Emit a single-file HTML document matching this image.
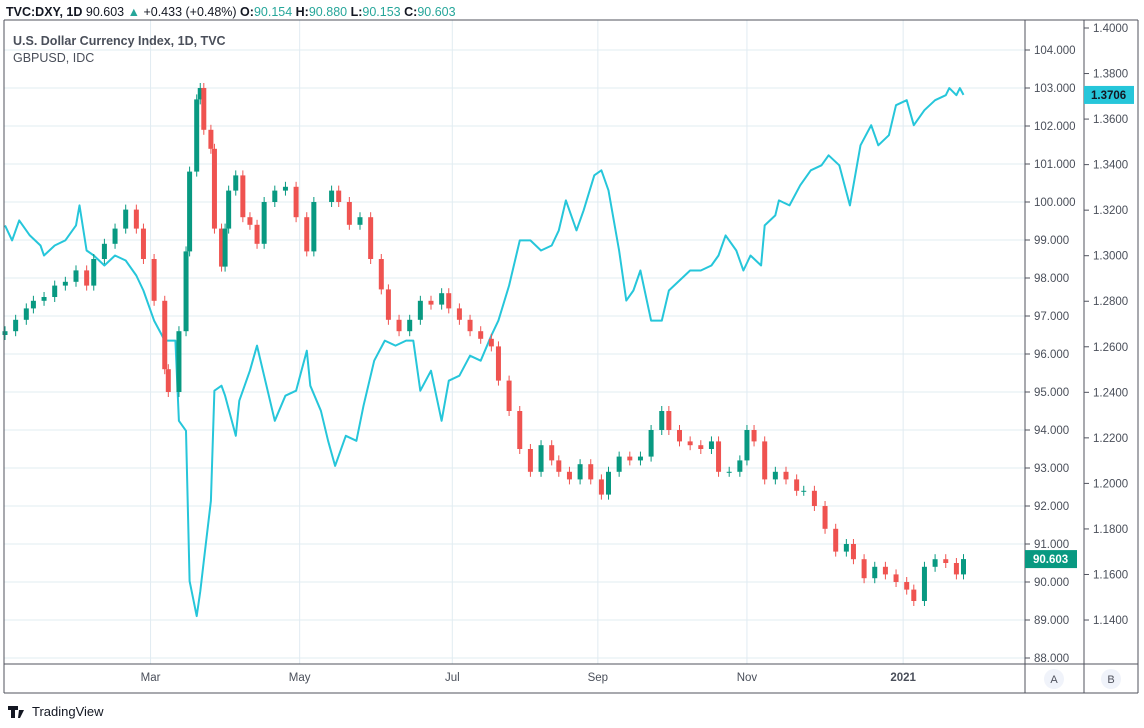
<!DOCTYPE html>
<html><head><meta charset="utf-8"><style>
body{margin:0;background:#fff;font-family:"Liberation Sans",sans-serif;}
svg text{font-family:"Liberation Sans",sans-serif;}
</style></head><body>
<svg id="c" width="1144" height="723" xmlns="http://www.w3.org/2000/svg">
<rect width="1144" height="723" fill="#fff"/>
<g id="grid"></g>
<g id="gbp"></g>
<g id="dxy"></g>
<g id="axes"></g>
<text x="6" y="16" font-size="12.5" fill="#131722"><tspan font-weight="bold">TVC:DXY, 1D</tspan> 90.603 <tspan fill="#26a69a">▲</tspan> +0.433 (+0.48%) <tspan font-weight="bold">O:</tspan><tspan fill="#26a69a">90.154</tspan> <tspan font-weight="bold">H:</tspan><tspan fill="#26a69a">90.880</tspan> <tspan font-weight="bold">L:</tspan><tspan fill="#26a69a">90.153</tspan> <tspan font-weight="bold">C:</tspan><tspan fill="#26a69a">90.603</tspan></text>
<text x="13" y="45" font-size="12.5" font-weight="bold" fill="#4a4f5a">U.S. Dollar Currency Index, 1D, TVC</text>
<text x="13" y="62" font-size="12.5" fill="#4a4f5a">GBPUSD, IDC</text>
<text x="32" y="716" font-size="13" fill="#131722">TradingView</text>
<path d="M8 706h10v4h-3v8h-4v-8h-3zM19 710h5l-4 8h-2z" fill="#131722"/>
</svg>
<script>
const dxyDays=[0,3,6,8,11,14,17,20,23,25,28,31,34,37,39,42,45,46,49,51,52,54,55,56,58,59,61,62,63,65,67,69,71,73,76,79,82,85,87,92,94,97,100,103,106,108,111,114,117,120,123,125,128,131,134,137,139,142,145,148,151,154,156,159,162,165,168,170,173,176,179,182,185,187,190,193,196,199,201,204,207,209,211,214,217,220,223,225,228,231,234,237,239,242,245,248,251,254,256,259,262,265,268,270];
const dxyClose=[96.6,96.9,97.2,97.4,97.5,97.8,97.9,98.2,97.8,98.5,98.9,99.3,99.8,99.3,98.5,97.4,95.6,95.0,96.6,98.7,100.8,102.7,103.0,101.9,101.4,99.3,98.3,99.3,100.3,100.7,99.6,99.4,98.9,100.0,100.3,100.4,99.6,98.7,100.0,100.3,100.0,99.4,99.6,98.5,97.7,96.9,96.6,96.9,97.4,97.3,97.6,97.2,96.9,96.6,96.4,96.2,95.3,94.5,93.5,92.9,93.6,93.2,92.9,92.7,93.1,92.7,92.3,92.9,93.3,93.2,93.3,94.0,94.5,94.0,93.7,93.6,93.5,93.7,92.9,92.9,93.2,94.0,93.7,92.7,92.9,92.7,92.4,92.4,92.0,91.4,90.8,91.0,90.6,90.1,90.4,90.2,90.0,89.8,89.5,90.4,90.6,90.5,90.2,90.603];
const gbpDays=[0,2,4,7,10,11,14,17,20,21,23,25,28,31,34,37,39,42,45,48,49,51,52,54,55,56,58,59,61,62,65,66,69,71,73,76,79,82,85,86,89,91,93,96,99,101,104,107,110,113,115,117,120,123,125,128,131,134,137,139,142,145,148,151,154,156,158,161,163,166,168,170,173,175,177,179,182,185,187,190,193,196,199,201,203,206,208,210,213,214,217,218,221,224,227,230,232,235,238,241,244,246,249,251,254,256,259,262,265,266,268,269,270];
const gbpValues=[1.3133,1.3067,1.3155,1.3089,1.3045,1.3001,1.3045,1.3067,1.3133,1.3221,1.3023,1.3001,1.2957,1.3001,1.2979,1.2913,1.2847,1.2715,1.2627,1.2627,1.2275,1.2231,1.1571,1.1417,1.1527,1.1659,1.1923,1.2407,1.2429,1.2385,1.2209,1.2363,1.2495,1.2605,1.2473,1.2275,1.2385,1.2407,1.2583,1.2429,1.2319,1.2187,1.2077,1.2209,1.2187,1.2341,1.2539,1.2627,1.2605,1.2627,1.2627,1.2407,1.2495,1.2275,1.2451,1.2473,1.2561,1.2539,1.2649,1.2715,1.2869,1.3067,1.3067,1.3023,1.3045,1.3111,1.3243,1.3111,1.3199,1.3353,1.3375,1.3287,1.3023,1.2803,1.2847,1.2935,1.2715,1.2715,1.2847,1.2891,1.2935,1.2935,1.2957,1.3001,1.3089,1.3023,1.2935,1.3001,1.2957,1.3133,1.3177,1.3243,1.3221,1.3309,1.3375,1.3397,1.3441,1.3397,1.3221,1.3485,1.3573,1.3485,1.3529,1.3661,1.3683,1.3573,1.3639,1.3683,1.3705,1.3736,1.3705,1.3736,1.3706];
const dxyTicks=[88,89,90,91,92,93,94,95,96,97,98,99,100,101,102,103,104];
const gbpTicks=[1.14,1.16,1.18,1.20,1.22,1.24,1.26,1.28,1.30,1.32,1.34,1.36,1.38,1.40];
const monthLabels=["Mar","May","Jul","Sep","Nov","2021"];
const monthDays=[41,83,126,167,209,253];

const NS="http://www.w3.org/2000/svg";
const xS=d=>5+d*3.55;
const yD=v=>50+(104-v)*38;
const yG=v=>28+(1.40-v)/0.02*45.54;
function mk(tag,attrs,parent){const e=document.createElementNS(NS,tag);for(const k in attrs)e.setAttribute(k,attrs[k]);parent.appendChild(e);return e;}
const grid=document.getElementById('grid'),axes=document.getElementById('axes');
dxyTicks.forEach(v=>{const l=mk('line',{x1:4,x2:1025,y1:yD(v),y2:yD(v),stroke:'#e1ecf2','stroke-width':1},grid);

});
monthDays.forEach((d,i)=>{const l=mk('line',{x1:xS(d),x2:xS(d),y1:20,y2:664,stroke:'#e1ecf2','stroke-width':1},grid);


const t=mk('text',{x:xS(d),y:681,'font-size':11.5,fill:'#4a4f5a','text-anchor':'middle'},axes);
if(monthLabels[i]==='2021')t.setAttribute('font-weight','bold');
t.textContent=monthLabels[i];

});
// GBP line
let p='';gbpDays.forEach((d,i)=>{p+=(i?'L':'M')+xS(d).toFixed(1)+' '+yG(gbpValues[i]).toFixed(1);});
const gl=mk('path',{d:p,fill:'none',stroke:'#26c6da','stroke-width':2,'stroke-linejoin':'round'},document.getElementById('gbp'));


// DXY candles
const dg=document.getElementById('dxy');
dxyClose.forEach((c,i)=>{const o=i?dxyClose[i-1]:c-0.1;const up=c>=o;const col=up?'#089981':'#ef5350';
const x=xS(dxyDays[i]);const hi=Math.max(o,c),lo=Math.min(o,c);
const w=mk('line',{x1:x,x2:x,y1:yD(hi)-5,y2:yD(lo)+5,stroke:col,'stroke-width':1},dg);


const b=mk('rect',{x:x-2.5,y:yD(hi),width:5,height:Math.max(1,yD(lo)-yD(hi)),fill:col},dg);

});
// frames
[[4,20,4,693],[4,20,1138,20],[1025,20,1025,693],[1084,20,1084,693],[1138,20,1138,693],[4,664,1138,664],[4,693,1138,693]].forEach(a=>{const l=mk('line',{x1:a[0],y1:a[1],x2:a[2],y2:a[3],stroke:'#50535e','stroke-width':1},axes);

});
dxyTicks.forEach(v=>{mk('line',{x1:1025,x2:1030,y1:yD(v),y2:yD(v),stroke:'#50535e'},axes);
const t=mk('text',{x:1034,y:yD(v)+4,'font-size':11.5,fill:'#4a4f5a'},axes);t.textContent=v.toFixed(3);

});
gbpTicks.forEach(v=>{mk('line',{x1:1084,x2:1089,y1:yG(v),y2:yG(v),stroke:'#50535e'},axes);
const t=mk('text',{x:1093,y:yG(v)+4,'font-size':11.5,fill:'#4a4f5a'},axes);t.textContent=v.toFixed(4);

});
// last price labels
const lastD=dxyClose[dxyClose.length-1],lastG=gbpValues[gbpValues.length-1];
const r1=mk('rect',{x:1025,y:yD(lastD)-9,width:52,height:18,fill:'#089981'},axes);


const t1=mk('text',{x:1033,y:yD(lastD)+4,'font-size':11.5,'font-weight':'bold',fill:'#fff'},axes);t1.textContent=lastD.toFixed(3);
const r2=mk('rect',{x:1084,y:yG(lastG)-9,width:50,height:18,fill:'#26c6da'},axes);


const t2=mk('text',{x:1091,y:yG(lastG)+4,'font-size':11.5,'font-weight':'bold',fill:'#131722'},axes);t2.textContent=lastG.toFixed(4);
// A/B buttons
[[1054,'A'],[1111,'B']].forEach(a=>{const c=mk('circle',{cx:a[0],cy:679,r:10,fill:'#f0f3fa'},axes);


const t=mk('text',{x:a[0],y:683,'font-size':11,fill:'#50535e','text-anchor':'middle'},axes);t.textContent=a[1];});
</script>
</body></html>
